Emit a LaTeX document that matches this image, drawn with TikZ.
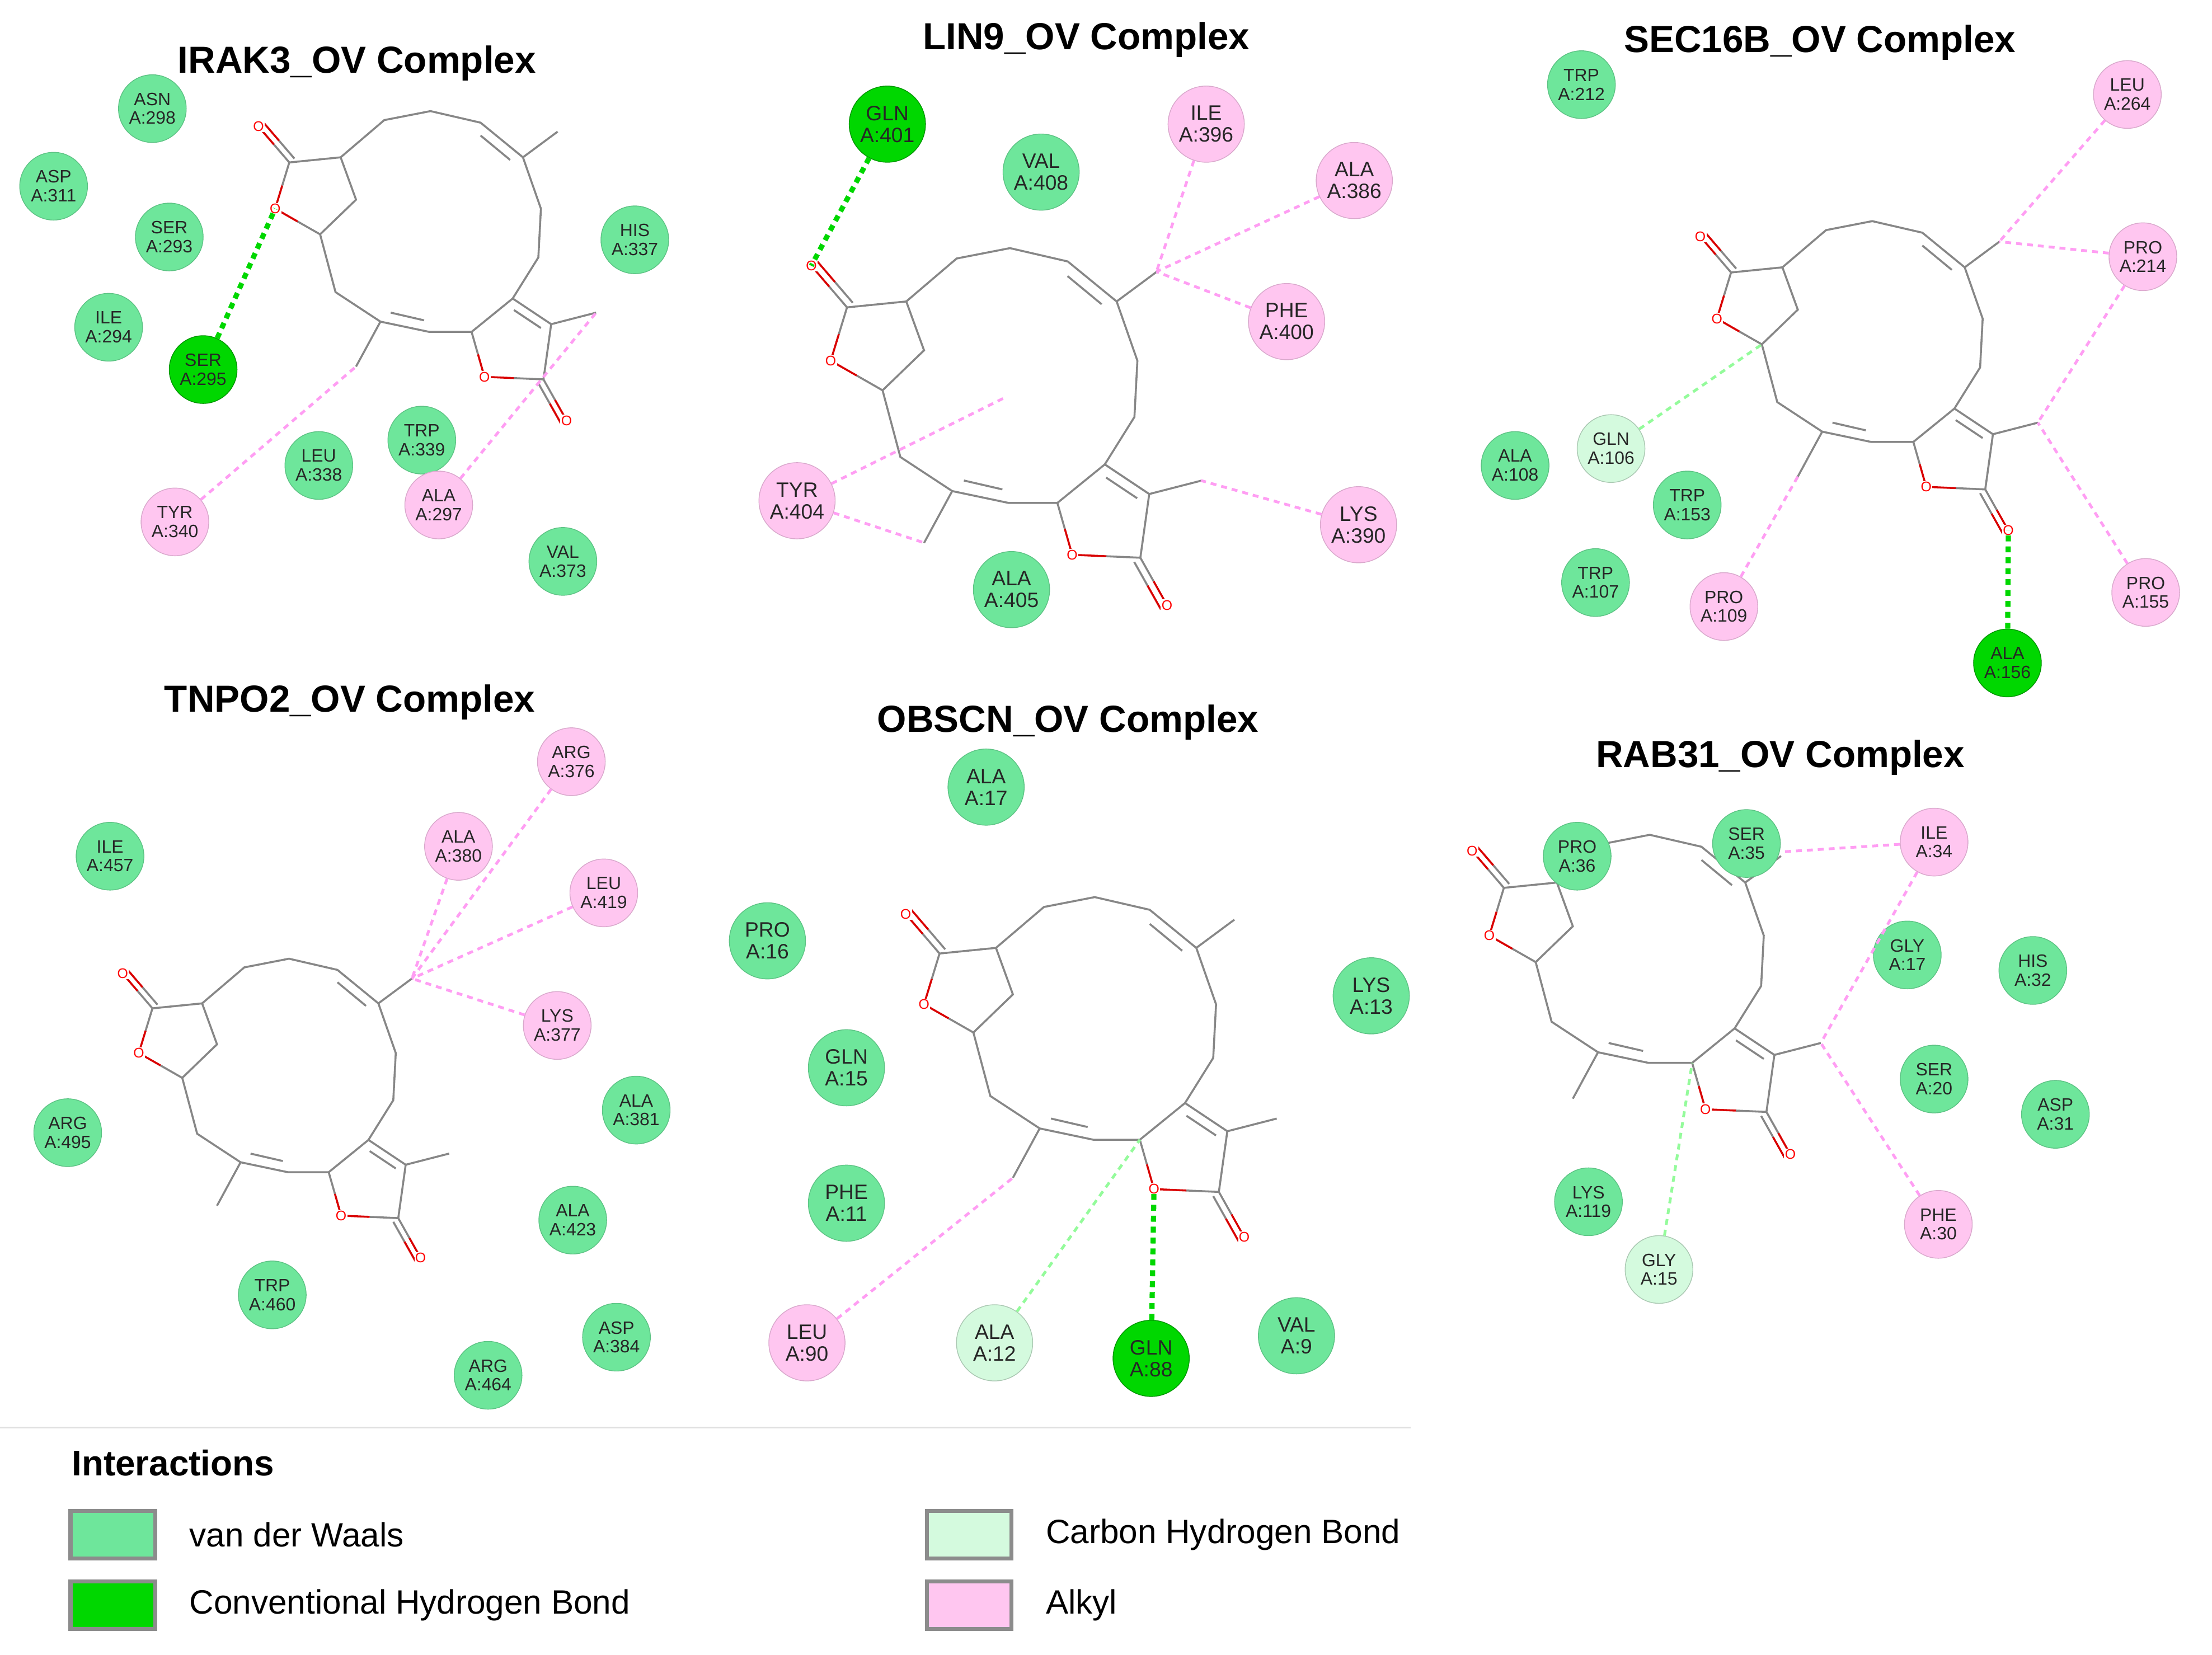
\documentclass[tikz,border=0pt]{standalone}
\usepackage{fontspec}
\setmainfont{Liberation Sans}
\usetikzlibrary{calc,positioning}
\definecolor{vdwc}{RGB}{110,230,155}
\definecolor{hbc}{RGB}{0,215,0}
\definecolor{chc}{RGB}{212,250,222}
\definecolor{alkc}{RGB}{255,198,240}
\definecolor{bondc}{RGB}{135,135,135}
\tikzset{
  res/.style={circle, minimum size=1.2cm, inner sep=0pt, align=center,
    font=\fontsize{9}{9.5}\selectfont, text=black!85},
  big/.style={minimum size=1.35cm, font=\fontsize{10.5}{11}\selectfont},
  vdw/.style={res, fill=vdwc, draw=vdwc!85!black, thin},
  hb/.style={res, fill=hbc, draw=hbc!70!black, thin},
  ch/.style={res, fill=chc, draw=chc!80!black, thin},
  alkyl/.style={res, fill=alkc, draw=alkc!85!black, thin},
  bond/.style={draw=bondc, line width=1pt},
  obond/.style={draw=red!85!black, line width=1pt},
  oatom/.style={text=red, fill=white, inner sep=0.4pt, font=\fontsize{7}{7}\selectfont},
  alkyl line/.style={draw=alkc!80!magenta, line width=1.4pt, dash pattern=on 3pt off 2.5pt},
  ch line/.style={draw=chc!70!green, line width=1.4pt, dash pattern=on 3pt off 2.5pt},
  hb line/.style={draw=hbc, line width=2.6pt, dash pattern=on 3pt off 2.5pt},
  title/.style={font=\bfseries\fontsize{19}{22}\selectfont},
  legbox/.style={draw=black!45, line width=2pt, minimum width=1.5cm, minimum height=0.85cm},
  legtext/.style={font=\fontsize{17}{20}\selectfont, anchor=west}
}
\newcommand\obond[2]{\draw[bond] (#1) -- ($(#1)!.5!(#2)$); \draw[obond] ($(#1)!.5!(#2)$) -- (#2);}
% ligand drawn in the frame of the OBSCN panel
\newcommand\ovmol[1]{%
  \coordinate (#1-lO) at (642,648); \coordinate (#1-l1) at (666,676);
  \coordinate (#1-l2) at (655,712); \coordinate (#1-l3) at (690,732);
  \coordinate (#1-l4) at (718,705); \coordinate (#1-l5) at (706,672);
  \coordinate (#1-r1) at (740,643); \coordinate (#1-r2) at (776,636);
  \coordinate (#1-r3) at (815,645); \coordinate (#1-r4) at (848,672);
  \coordinate (#1-r5) at (862,712); \coordinate (#1-r6) at (860,750);
  \coordinate (#1-b1) at (840,782); \coordinate (#1-b2) at (870,802);
  \coordinate (#1-b3) at (864,845); \coordinate (#1-bO2) at (882,877);
  \coordinate (#1-bO) at (818,843); \coordinate (#1-b5) at (808,808);
  \coordinate (#1-c0) at (702,777); \coordinate (#1-c1) at (737,800);
  \coordinate (#1-c2) at (775,808);
  \coordinate (#1-m1) at (875,652); \coordinate (#1-m2) at (905,793);
  \coordinate (#1-m3) at (718,835);
  \draw[bond] (#1-l1) -- (#1-l5) -- (#1-r1) -- (#1-r2) -- (#1-r3) -- (#1-r4)
    -- (#1-r5) -- (#1-r6) -- (#1-b1) -- (#1-b5) -- (#1-c2) -- (#1-c1)
    -- (#1-c0) -- (#1-l3) -- (#1-l4) -- (#1-l5);
  \draw[bond] (#1-b1) -- (#1-b2) -- (#1-b3);
  \draw[bond] (#1-r4) -- (#1-m1) (#1-b2) -- (#1-m2) (#1-c1) -- (#1-m3);
  \draw[bond] (815,655) -- (838,674) (745,793) -- (771,799) (841,791) -- (862,805);
  \obond{#1-l1}{#1-lO} \obond{670,673}{646,645}
  \obond{#1-l1}{#1-l2} \obond{#1-l3}{#1-l2}
  \obond{#1-b3}{#1-bO2} \obond{860,848}{878,880}
  \obond{#1-b3}{#1-bO} \obond{#1-b5}{#1-bO}
  \node[oatom] at (#1-lO) {O}; \node[oatom] at (#1-l2) {O};
  \node[oatom] at (#1-bO) {O}; \node[oatom] at (#1-bO2) {O};
}

\begin{document}
\begin{tikzpicture}[x=0.025cm, y=-0.025cm]
  \useasboundingbox (0,0) rectangle (1568,1173);

  % IRAK3
  \node[title] (t1) at (253,45) {IRAK3\_OV Complex};
  \begin{scope}[shift={(-401,-500)}, scale=0.91] \ovmol{p1} \end{scope}
  \node[vdw] (asn298) at (108,77) {ASN\\A:298};
  \node[vdw] (asp311) at (38,132) {ASP\\A:311};
  \node[vdw] (ser293) at (120,168) {SER\\A:293};
  \node[vdw] (ile294) at (77,232) {ILE\\A:294};
  \node[hb] (ser295) at (144,262) {SER\\A:295};
  \node[vdw] (his337) at (450,170) {HIS\\A:337};
  \node[vdw] (trp339) at (299,312) {TRP\\A:339};
  \node[vdw] (leu338) at (226,330) {LEU\\A:338};
  \node[alkyl] (ala297) at (311,358) {ALA\\A:297};
  \node[alkyl] (tyr340) at (124,370) {TYR\\A:340};
  \node[vdw] (val373) at (399,398) {VAL\\A:373};
  \draw[hb line] (ser295) -- (p1-l2);
  \draw[alkyl line] (tyr340) -- (p1-m3);
  \draw[alkyl line] (ala297) -- (p1-m2);

  % LIN9
  \node[title] (t2) at (770,28) {LIN9\_OV Complex};
  \begin{scope}[shift={(-99,-492)}, scale=1.05] \ovmol{p2} \end{scope}
  \node[hb, big] (gln401) at (629,88) {GLN\\A:401};
  \node[vdw, big] (val408) at (738,122) {VAL\\A:408};
  \node[alkyl, big] (ile396) at (855,88) {ILE\\A:396};
  \node[alkyl, big] (ala386) at (960,128) {ALA\\A:386};
  \node[alkyl, big] (phe400) at (912,228) {PHE\\A:400};
  \node[alkyl, big] (tyr404) at (565,355) {TYR\\A:404};
  \node[alkyl, big] (lys390) at (963,372) {LYS\\A:390};
  \node[vdw, big] (ala405) at (717,418) {ALA\\A:405};
  \coordinate (p2-ring) at (712,282);
  \draw[hb line] (gln401) -- (p2-lO);
  \draw[alkyl line] (ile396) -- (p2-m1);
  \draw[alkyl line] (ala386) -- (p2-m1);
  \draw[alkyl line] (phe400) -- (p2-m1);
  \draw[alkyl line] (tyr404) -- (p2-m3);
  \draw[alkyl line] (tyr404) -- (p2-ring);
  \draw[alkyl line] (lys390) -- (p2-m2);

  % SEC16B
  \node[title] (t3) at (1290,30) {SEC16B\_OV Complex};
  \begin{scope}[shift={(621,-422)}, scale=0.91] \ovmol{p3} \end{scope}
  \node[vdw] (trp212) at (1121,60) {TRP\\A:212};
  \node[alkyl] (leu264) at (1508,67) {LEU\\A:264};
  \node[alkyl] (pro214) at (1519,182) {PRO\\A:214};
  \node[ch] (gln106) at (1142,318) {GLN\\A:106};
  \node[vdw] (ala108) at (1074,330) {ALA\\A:108};
  \node[vdw] (trp153) at (1196,358) {TRP\\A:153};
  \node[vdw] (trp107) at (1131,413) {TRP\\A:107};
  \node[alkyl] (pro109) at (1222,430) {PRO\\A:109};
  \node[alkyl] (pro155) at (1521,420) {PRO\\A:155};
  \node[hb] (ala156) at (1423,470) {ALA\\A:156};
  \draw[ch line] (gln106) -- (p3-l3);
  \draw[alkyl line] (leu264) -- (p3-m1);
  \draw[alkyl line] (pro214) -- (p3-m1);
  \draw[alkyl line] (pro214) -- (p3-m2);
  \draw[alkyl line] (pro155) -- (p3-m2);
  \draw[alkyl line] (pro109) -- (p3-m3);
  \draw[hb line] (ala156) -- (p3-bO2);

  % TNPO2
  \node[title] (t4) at (248,498) {TNPO2\_OV Complex};
  \begin{scope}[shift={(-478,120)}, scale=0.88] \ovmol{p4} \end{scope}
  \node[alkyl] (arg376) at (405,540) {ARG\\A:376};
  \node[vdw] (ile457) at (78,607) {ILE\\A:457};
  \node[alkyl] (ala380) at (325,600) {ALA\\A:380};
  \node[alkyl] (leu419) at (428,633) {LEU\\A:419};
  \node[alkyl] (lys377) at (395,727) {LYS\\A:377};
  \node[vdw] (ala381) at (451,787) {ALA\\A:381};
  \node[vdw] (arg495) at (48,803) {ARG\\A:495};
  \node[vdw] (ala423) at (406,865) {ALA\\A:423};
  \node[vdw] (trp460) at (193,918) {TRP\\A:460};
  \node[vdw] (asp384) at (437,948) {ASP\\A:384};
  \node[vdw] (arg464) at (346,975) {ARG\\A:464};
  \foreach \r in {arg376,ala380,leu419,lys377}
    \draw[alkyl line] (\r) -- (p4-m1);

  % OBSCN
  \node[title] (t5) at (757,512) {OBSCN\_OV Complex};
  \ovmol{p5}
  \node[vdw, big] (ala17) at (699,558) {ALA\\A:17};
  \node[vdw, big] (pro16) at (544,667) {PRO\\A:16};
  \node[vdw, big] (lys13) at (972,706) {LYS\\A:13};
  \node[vdw, big] (gln15) at (600,757) {GLN\\A:15};
  \node[vdw, big] (phe11) at (600,853) {PHE\\A:11};
  \node[alkyl, big] (leu90) at (572,952) {LEU\\A:90};
  \node[ch, big] (ala12) at (705,952) {ALA\\A:12};
  \node[hb, big] (gln88) at (816,963) {GLN\\A:88};
  \node[vdw, big] (val9) at (919,947) {VAL\\A:9};
  \draw[alkyl line] (leu90) -- (p5-m3);
  \draw[ch line] (ala12) -- (p5-b5);
  \draw[hb line] (gln88) -- (p5-bO);

  % RAB31
  \node[title] (t6) at (1262,537) {RAB31\_OV Complex};
  \begin{scope}[shift={(440,-6)}, scale=0.94] \ovmol{p6} \end{scope}
  \node[vdw] (pro36) at (1118,607) {PRO\\A:36};
  \node[vdw] (ser35) at (1238,598) {SER\\A:35};
  \node[alkyl] (ile34) at (1371,597) {ILE\\A:34};
  \node[vdw] (gly17) at (1352,677) {GLY\\A:17};
  \node[vdw] (his32) at (1441,688) {HIS\\A:32};
  \node[vdw] (ser20) at (1371,765) {SER\\A:20};
  \node[vdw] (asp31) at (1457,790) {ASP\\A:31};
  \node[vdw] (lys119) at (1126,852) {LYS\\A:119};
  \node[alkyl] (phe30) at (1374,868) {PHE\\A:30};
  \node[ch] (gly15) at (1176,900) {GLY\\A:15};
  \coordinate (p6-top) at (1262,604);
  \draw[alkyl line] (ile34) -- (p6-top);
  \draw[alkyl line] (ile34) -- (p6-m2);
  \draw[alkyl line] (phe30) -- (p6-m2);
  \draw[ch line] (gly15) -- (p6-b5);

  % legend
  \coordinate (sepL) at (0,1012); \coordinate (sepR) at (1000,1012);
  \draw[black!12, line width=1pt] (sepL) -- (sepR);
  \node[font=\bfseries\fontsize{18}{21}\selectfont, anchor=west] (leg) at (46,1037) {Interactions};
  \node[legbox, fill=vdwc] (k1) at (80,1088) {};
  \node[legtext, right=0.45cm of k1] (k1t) {van der Waals};
  \node[legbox, fill=hbc] (k2) at (80,1138) {};
  \node[legtext, right=0.45cm of k2] (k2t) {Conventional Hydrogen Bond};
  \node[legbox, fill=chc] (k3) at (687,1088) {};
  \node[legtext, right=0.45cm of k3] (k3t) {Carbon Hydrogen Bond};
  \node[legbox, fill=alkc] (k4) at (687,1138) {};
  \node[legtext, right=0.45cm of k4] (k4t) {Alkyl};
\end{tikzpicture}
\end{document}
